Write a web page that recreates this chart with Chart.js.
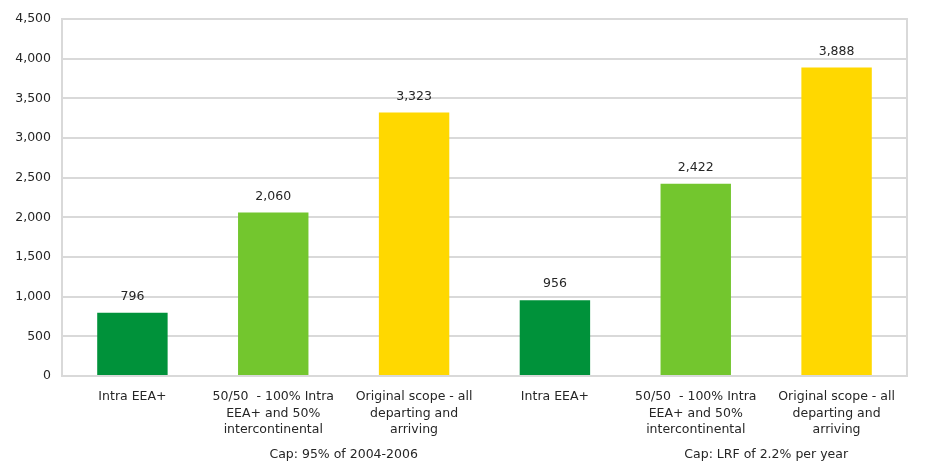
<!DOCTYPE html>
<html>
<head>
<meta charset="utf-8">
<script src="https://cdn.jsdelivr.net/npm/chart.js"></script>
<style>
    html, body { margin: 0; padding: 0; background: #fff; }
    #wrap { width: 928px; height: 467px; position: relative; }
</style>
</head>
<body>
<div id="wrap"><canvas id="capChart" width="928" height="467"></canvas></div>
<script>
const categories = [
    ['Intra EEA+'],
    ['50/50  - 100% Intra', 'EEA+ and 50%', 'intercontinental'],
    ['Original scope - all', 'departing and', 'arriving'],
    ['Intra EEA+'],
    ['50/50  - 100% Intra', 'EEA+ and 50%', 'intercontinental'],
    ['Original scope - all', 'departing and', 'arriving']
];
const values = [796, 2060, 3323, 956, 2422, 3888];
const barColors = ['#00923a', '#73c62e', '#ffd800', '#00923a', '#73c62e', '#ffd800'];
const groupLabels = ['Cap: 95% of 2004-2006', 'Cap: LRF of 2.2% per year'];
const groupCenterIndex = [1, 4];

const fontFamily = "'DejaVu Sans', sans-serif";
const textColor = '#262626';
const fmt = new Intl.NumberFormat('en-US');

// value labels, frame and group captions
const extras = {
    id: 'extras',
    afterDatasetsDraw(chart) {
        const ctx = chart.ctx;
        const area = chart.chartArea;
        ctx.save();
        ctx.strokeStyle = '#d9d9d9';
        ctx.lineWidth = 2;
        ctx.strokeRect(area.left, area.top, area.right - area.left, area.bottom - area.top);

        ctx.fillStyle = textColor;
        ctx.font = '12.5px ' + fontFamily;
        ctx.textAlign = 'center';
        ctx.textBaseline = 'middle';
        chart.getDatasetMeta(0).data.forEach((bar, i) => {
            ctx.fillText(fmt.format(values[i]), bar.x, bar.y - 16);
        });

        const xs = chart.scales.x;
        groupLabels.forEach((g, i) => {
            const x = (xs.getPixelForValue(groupCenterIndex[i]) + xs.getPixelForValue(groupCenterIndex[i] + 1)) / 2;
            ctx.fillText(g, x, 455);
        });
        ctx.restore();
    }
};

new Chart(document.getElementById('capChart'), {
    type: 'bar',
    data: {
        labels: categories,
        datasets: [{
            data: values,
            backgroundColor: barColors,
            barPercentage: 0.5,
            categoryPercentage: 1
        }]
    },
    options: {
        responsive: false,
        animation: false,
        layout: { padding: { top: 19, right: 21, left: 0, bottom: 0 } },
        plugins: {
            legend: { display: false },
            tooltip: { enabled: false }
        },
        scales: {
            x: {
                grid: { display: false },
                border: { display: false },
                ticks: {
                    color: textColor,
                    font: { family: fontFamily, size: 12.5, lineHeight: 1.3 },
                    padding: 5,
                    maxRotation: 0,
                    autoSkip: false
                },
                afterFit(scale) { scale.height = 91; }
            },
            y: {
                min: 0,
                max: 4500,
                ticks: {
                    stepSize: 500,
                    color: textColor,
                    font: { family: fontFamily, size: 12.5 },
                    padding: 11,
                    callback: v => fmt.format(v)
                },
                grid: { color: '#d9d9d9', lineWidth: 2, drawTicks: false },
                border: { display: false },
                afterFit(scale) { scale.width = 62; }
            }
        }
    },
    plugins: [extras]
});
</script>
</body>
</html>
